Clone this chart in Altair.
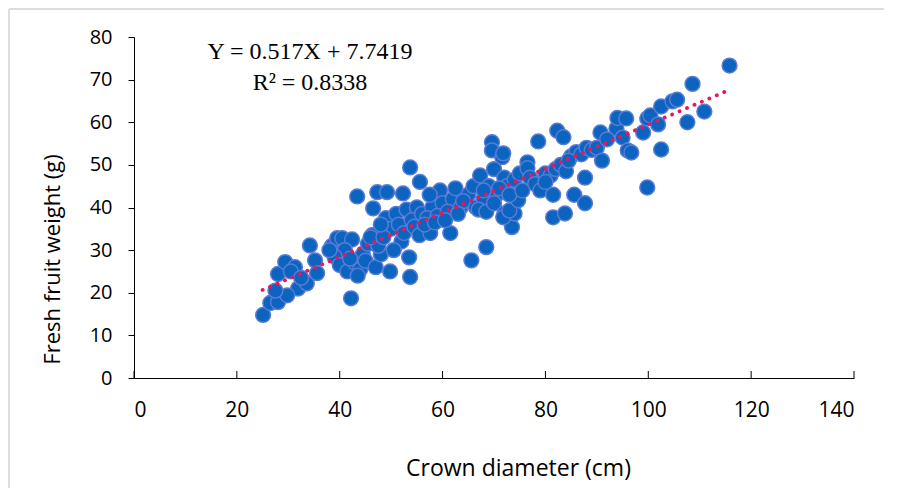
import altair as alt
import pandas as pd

# Crown diameter (cm) and fresh fruit weight (g)
crown_diameter = [
    25.1, 26.5, 28.0, 28.0, 29.4, 31.3, 31.9, 29.8, 33.6, 34.2,
    35.2, 35.6, 30.5, 32.5, 27.5,
    38.5, 39.5, 40.5, 42.4, 41.0, 39.0, 40.0, 41.5, 42.2, 43.0,
    44.0, 44.5, 45.5, 46.3, 43.5, 38.0, 42.0, 45.0, 47.0, 48.0,
    49.8, 47.5, 46.0,
    43.4, 46.5, 47.3, 49.2, 52.3, 53.7, 55.6, 49.0, 51.0, 53.0,
    55.0, 50.0, 48.5, 51.5, 54.0, 56.0, 52.0, 50.5, 53.5, 53.7,
    48.0, 52.5, 54.5, 55.5,
    57.6, 61.5, 59.5, 58.0, 60.0, 62.0, 63.5, 65.0, 66.0, 67.3,
    64.0, 57.0, 59.0, 61.0, 63.0, 66.5, 68.0, 56.5, 58.5, 60.5,
    65.6, 68.5, 62.5, 67.0, 57.5,
    69.6, 69.6, 71.6, 71.8, 70.0, 72.0, 69.0, 70.5, 72.5, 74.0,
    75.0, 76.5, 76.5, 73.5, 72.0, 74.0, 71.8, 73.0, 74.7, 68.5,
    70.0, 71.0, 73.0, 77.0, 78.0, 75.5, 68.0,
    78.6, 82.3, 83.5, 79.0, 80.0, 81.0, 82.0, 83.0, 84.0, 85.0,
    86.0, 87.0, 88.0, 89.0, 90.0, 87.7, 85.6, 87.7, 81.5, 81.5,
    83.8, 80.0, 84.5,
    90.7, 91.0, 93.8, 94.0, 95.0, 95.7, 96.0, 96.7, 99.0, 99.8,
    100.4, 101.9, 102.5, 102.5, 104.7, 105.6, 107.6, 108.6, 110.9, 115.8,
    99.8, 92.0,
]
fruit_weight = [
    14.8, 17.6, 17.8, 24.4, 27.2, 26.0, 21.0, 19.4, 22.2, 31.1,
    27.6, 24.6, 25.0, 23.5, 20.5,
    31.0, 32.8, 32.8, 32.5, 30.0, 28.5, 26.5, 25.0, 18.7, 27.0,
    25.5, 29.0, 31.5, 33.5, 24.0, 30.0, 28.0, 27.5, 26.0, 29.0,
    25.0, 31.0, 33.0,
    42.6, 39.8, 43.6, 43.6, 43.3, 49.4, 46.0, 37.5, 38.5, 39.5,
    40.0, 35.0, 33.0, 36.0, 37.0, 38.5, 32.0, 30.0, 28.3, 23.7,
    36.0, 34.0, 35.5, 33.5,
    34.0, 34.0, 44.0, 40.0, 41.0, 42.0, 40.0, 43.0, 45.0, 47.5,
    41.5, 37.5, 38.0, 39.0, 38.5, 40.0, 42.0, 36.0, 36.5, 37.0,
    27.6, 30.7, 44.5, 39.5, 43.0,
    55.3, 53.4, 51.8, 52.7, 49.0, 47.0, 45.0, 43.0, 45.0, 46.5,
    48.0, 50.6, 49.2, 35.4, 38.6, 38.6, 37.7, 39.3, 41.7, 39.0,
    41.0, 44.5, 43.0, 47.0, 45.5, 44.0, 44.0,
    55.5, 58.0, 56.5, 44.0, 48.0, 47.5, 49.0, 50.0, 48.5, 52.0,
    53.0, 52.5, 54.0, 53.5, 54.0, 47.0, 43.0, 41.0, 43.0, 37.7,
    38.6, 46.0, 51.0,
    57.6, 51.0, 58.5, 61.0, 56.4, 60.9, 53.4, 52.9, 57.6, 60.9,
    61.6, 59.5, 63.7, 53.6, 64.9, 65.3, 60.0, 69.0, 62.5, 73.3,
    44.7, 56.0,
]

# Trend line Y = 0.517X + 7.7419 end points
trend_x = [25.0, 115.0]
trend_y = [20.67, 67.20]

x_ticks = [0, 20, 40, 60, 80, 100, 120, 140]
y_ticks = [0, 10, 20, 30, 40, 50, 60, 70, 80]

W, H = 720, 341

pts = pd.DataFrame({"x": crown_diameter, "y": fruit_weight})
trend = pd.DataFrame({"x": trend_x, "y": trend_y})
ticks_df = pd.DataFrame({"t": x_ticks})

xscale = alt.Scale(domain=[0, 140], nice=False, zero=False)
yscale = alt.Scale(domain=[0, 80], nice=False, zero=False)

tick_font = "Open Sans"

xaxis = alt.Axis(
    values=x_ticks, title="Crown diameter (cm)", grid=False, ticks=False,
    domainColor="#000000", domainWidth=1,
    labelFont=tick_font, labelFontSize=21, labelColor="#000000", labelPadding=21,
    titleFont=tick_font, titleFontSize=23, titleFontWeight="normal", titleColor="#000000",
    titlePadding=37, titleX=384, titleAlign="center", titleAnchor="start",
)
yaxis = alt.Axis(
    values=y_ticks, title="Fresh fruit weight (g)", grid=False, ticks=True,
    tickSize=6, tickColor="#000000", domainColor="#000000", domainWidth=1,
    labelFont=tick_font, labelFontSize=20, labelColor="#000000", labelPadding=16,
    titleFont=tick_font, titleFontSize=22, titleFontWeight="normal", titleColor="#000000",
    titlePadding=25, titleY=222, titleAlign="center", titleAnchor="start",
)

points = alt.Chart(pts).mark_circle(
    size=220, color="#0A64C0", opacity=1, stroke="#5A7BD3", strokeWidth=1.5
).encode(
    x=alt.X("x:Q", scale=xscale, axis=xaxis),
    y=alt.Y("y:Q", scale=yscale, axis=yaxis),
)

line = alt.Chart(trend).mark_line(
    color="#E8175D", strokeWidth=3.8, strokeDash=[0.1, 8], strokeCap="round"
).encode(
    x=alt.X("x:Q", scale=xscale),
    y=alt.Y("y:Q", scale=yscale),
)

xticks_marks = alt.Chart(ticks_df).mark_rule(color="#000000", strokeWidth=1).encode(
    x=alt.X("t:Q", scale=xscale),
    y=alt.value(H - 7),
    y2=alt.value(H),
)

eq_text = alt.Chart(pd.DataFrame({"t": ["Y = 0.517X + 7.7419"]})).mark_text(
    font="Liberation Serif", fontSize=24, color="#000000", align="center", baseline="middle"
).encode(x=alt.value(176), y=alt.value(15), text="t:N")

r2_text = alt.Chart(pd.DataFrame({"t": ["R² = 0.8338"]})).mark_text(
    font="Liberation Serif", fontSize=24, color="#000000", align="center", baseline="middle"
).encode(x=alt.value(176), y=alt.value(46), text="t:N")

frame_left = alt.Chart(pd.DataFrame({"a": [0]})).mark_rule(color="#DDDDDD", strokeWidth=2).encode(
    x=alt.value(-125), y=alt.value(-28), y2=alt.value(H + 110)
)
frame_top = alt.Chart(pd.DataFrame({"a": [0]})).mark_rule(color="#DDDDDD", strokeWidth=2).encode(
    x=alt.value(-125), x2=alt.value(W + 30), y=alt.value(-28)
)

chart = alt.layer(
    frame_left, frame_top, points, line, xticks_marks, eq_text, r2_text
).properties(
    width=W, height=H,
    autosize=alt.AutoSizeParams(type="none"),
    padding={"left": 126, "top": 29, "right": 30, "bottom": 110},
    background="#FFFFFF",
).configure_view(stroke=None)

chart.save("out.html", embed_options={"renderer": "svg", "actions": False})
